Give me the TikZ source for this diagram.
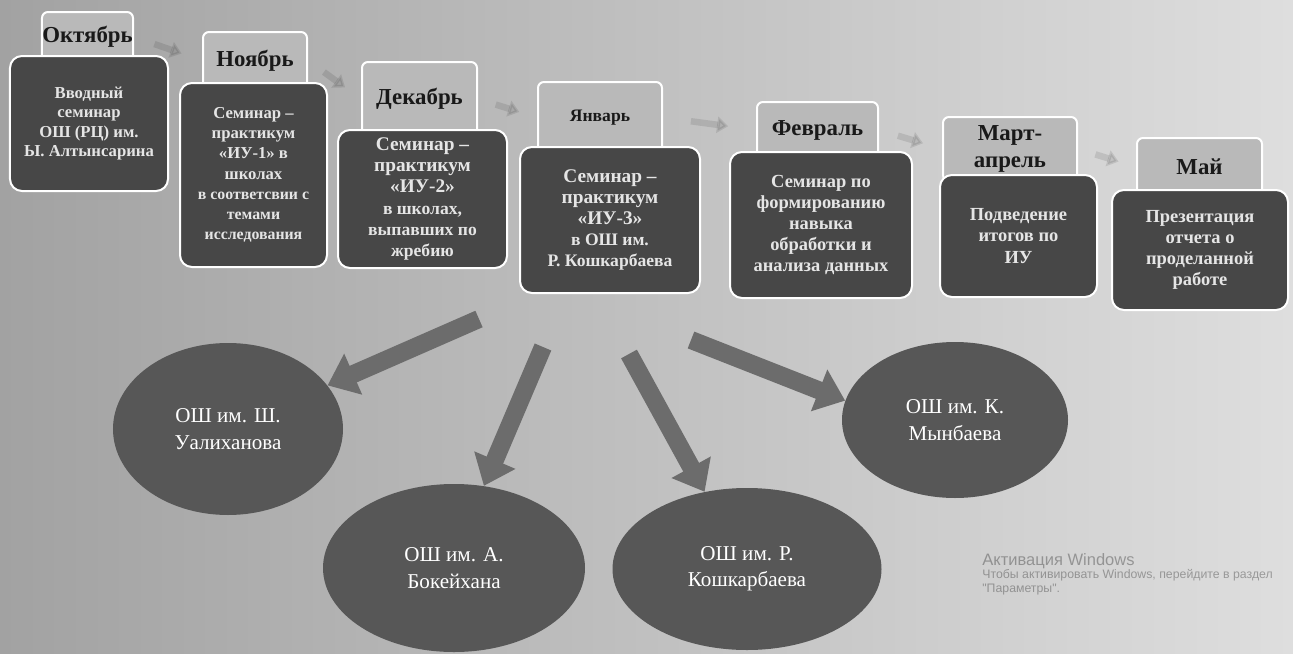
\documentclass[tikz,border=0pt]{standalone}
\usepackage{fontspec}
\setmainfont{Liberation Serif}
\newfontfamily\wmfont{Liberation Sans}
\usetikzlibrary{shapes,positioning,calc,arrows.meta}

\definecolor{bgleft}{HTML}{A2A2A2}
\definecolor{bgright}{HTML}{DEDEDE}
\definecolor{tabgray}{HTML}{B9B9B9}
\definecolor{boxgray}{HTML}{474747}
\definecolor{ellgray}{HTML}{575757}
\definecolor{arrgray}{HTML}{6C6C6C}

\newcommand\smallline{\fontsize{9}{10.5}\selectfont}
\newcommand\midline{\fontsize{10}{11.5}\selectfont}

\tikzset{
  monthtab/.style={draw=white, line width=0.4mm, fill=tabgray, rounded corners=1.2mm,
    inner sep=0pt, align=center, text=black!90,
    font=\bfseries\fontsize{13}{15}\selectfont},
  taskbox/.style={draw=white, line width=0.4mm, fill=boxgray, rounded corners=2.4mm,
    inner sep=0pt, align=center, text=white!90!black,
    font=\bfseries\fontsize{10.5}{12}\selectfont},
  school/.style={ellipse, fill=ellgray, inner sep=0pt, align=center, text=white,
    font=\fontsize{12}{15}\selectfont},
  bigarrow/.style={draw=arrgray, line width=3.6mm, -{Triangle[width=8.6mm,length=5.6mm]}},
  fadearrow/.style={draw=black, opacity=0.1, line width=1.3mm, -{Triangle[width=3.2mm,length=2.2mm]}}
}

\begin{document}
\begin{tikzpicture}[x=0.2mm,y=-0.2mm]
\useasboundingbox (0,0) rectangle (1293,653);
\fill[left color=bgleft,right color=bgright] (0,0) rectangle (1293,653);

% month tabs
\node[monthtab,minimum width=18.2mm,minimum height=10mm] (oct) at (87.5,37) {Октябрь};
\node[monthtab,minimum width=20.8mm,minimum height=11.4mm] (nov) at (255,60.5) {Ноябрь};
\node[monthtab,minimum width=23mm,minimum height=14.8mm] (dec) at (419.5,99) {Декабрь};
\node[monthtab,minimum width=24.8mm,minimum height=14.2mm,font=\bfseries\fontsize{10}{12}\selectfont] (jan) at (600,117.5) {Январь};
\node[monthtab,minimum width=24.2mm,minimum height=11.2mm] (feb) at (817.5,130) {Февраль};
\node[monthtab,minimum width=26.8mm,minimum height=12.8mm] (mar) at (1010,149) {Март-\\апрель};
\node[monthtab,minimum width=25mm,minimum height=11.6mm] (may) at (1199.5,167) {Май};

% arrows between months
\foreach \a/\b in {oct/nov,nov/dec,dec/jan,jan/feb,feb/mar,mar/may}
  \draw[fadearrow] ($(\a.east)!0.3!(\b.west)$) -- ($(\a.east)!0.7!(\b.west)$);

% tasks
\node[taskbox,minimum width=31.6mm,minimum height=27mm,font=\bfseries\fontsize{9.5}{11}\selectfont] (octbox) at (89,123.5)
  {Вводный\\семинар\\ОШ (РЦ) им.\\Ы. Алтынсарина};
\node[taskbox,minimum width=29.4mm,minimum height=36.8mm,font=\bfseries\fontsize{9.5}{11.5}\selectfont] (novbox) at (253.5,175)
  {Семинар –\\практикум\\«ИУ-1» в\\школах\\{\smallline в соответсвии с}\\{\smallline темами}\\{\smallline исследования}};
\node[taskbox,minimum width=33.8mm,minimum height=27.6mm,font=\bfseries\fontsize{11}{12}\selectfont] (decbox) at (422.5,199)
  {Семинар –\\практикум\\«ИУ-2»\\{\midline в школах,}\\{\midline выпавших по}\\{\midline жребию}};
\node[taskbox,minimum width=36mm,minimum height=29.2mm,font=\bfseries\fontsize{11}{12}\selectfont] (janbox) at (610,220)
  {Семинар –\\практикум\\«ИУ-3»\\{\midline в ОШ им.}\\{\midline Р. Кошкарбаева}};
\node[taskbox,minimum width=36.4mm,minimum height=29.2mm] (febbox) at (821,225)
  {Семинар по\\формированию\\навыка\\обработки и\\анализа данных};
\node[taskbox,minimum width=31.4mm,minimum height=24.4mm] (marbox) at (1018.5,236)
  {Подведение\\итогов по\\ИУ};
\node[taskbox,minimum width=35.2mm,minimum height=24mm] (maybox) at (1200,250)
  {Презентация\\отчета о\\проделанной\\работе};

% schools
\node[school,minimum width=46mm,minimum height=34.4mm] (ual) at (228,429) {ОШ им. Ш.\\Уалиханова};
\node[school,minimum width=52.4mm,minimum height=33.6mm] (bok) at (454,568) {ОШ им. А.\\Бокейхана};
\node[school,minimum width=53.8mm,minimum height=32.4mm] (kosh) at (747,569) {ОШ им. Р.\\Кошкарбаева};
\node[school,minimum width=45.2mm,minimum height=31.2mm] (myn) at (955,420) {ОШ им. К.\\Мынбаева};

\coordinate (s1) at (479,319);
\coordinate (s2) at (543,347);
\coordinate (s3) at (629,354);
\coordinate (s4) at (691,340);
\draw[bigarrow] (s1) -- (ual);
\draw[bigarrow] (s2) -- (bok.70);
\draw[bigarrow] (s3) -- (kosh);
\draw[bigarrow] (s4) -- (myn.170);

% watermark
\node[anchor=north west, align=left, inner sep=0pt, text=black, opacity=0.3,
  font=\wmfont\fontsize{7}{7.6}\selectfont] (wm) at (982,553)
  {{\fontsize{9.4}{10}\selectfont Активация Windows}\\
   Чтобы активировать Windows, перейдите в раздел\\
   "Параметры".};
\end{tikzpicture}
\end{document}
